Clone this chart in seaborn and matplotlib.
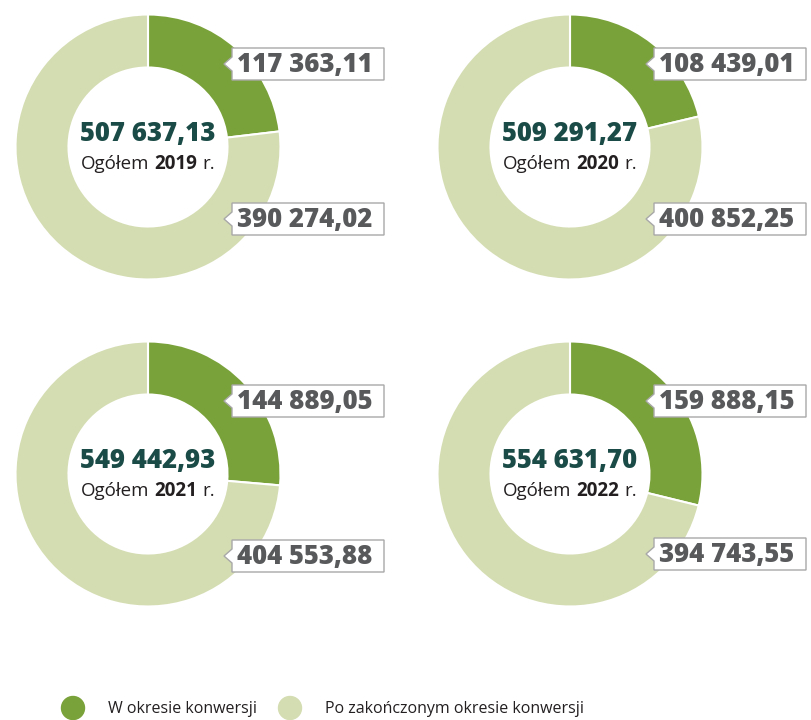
import matplotlib
matplotlib.use("Agg")
import matplotlib.pyplot as plt
from matplotlib.patches import Polygon, Circle
from matplotlib.offsetbox import TextArea, HPacker, AnnotationBbox
import seaborn as sns

# dane (ha)
years = [2019, 2020, 2021, 2022]
w_okresie = [117363.11, 108439.01, 144889.05, 159888.15]
po_okresie = [390274.02, 400852.25, 404553.88, 394743.55]
ogolem = [507637.13, 509291.27, 549442.93, 554631.70]
legend_labels = ["W okresie konwersji", "Po zakończonym okresie konwersji"]

sns.set_theme(style="white")
plt.rcParams["font.family"] = ["Open Sans", "DejaVu Sans"]

colors = sns.color_palette(["#7aa23a", "#d4ddb2"])
dark = "#1b4b46"
grey = "#58595b"
black = "#231f20"


def fmt(v):
    return f"{v:,.2f}".replace(",", " ").replace(".", ",")


def label_box(ax, x0, x1, y0, y1, txt):
    mid = (y0 + y1) / 2
    pts = [(x1, y0), (x0, y0), (x0, mid - 7), (x0 - 8, mid), (x0, mid + 7), (x0, y1), (x1, y1)]
    ax.add_patch(Polygon(pts, closed=True, facecolor="white", edgecolor="#a8a8a8", lw=1, zorder=3))
    ax.text(x0 + 5, mid + 1, txt, ha="left", va="center", fontsize=18.5,
            fontweight=800, color=grey, zorder=4)


fig = plt.figure(figsize=(8.11, 7.2), dpi=100)
ax = fig.add_axes([0, 0, 1, 1])

# layout w pikselach
centers = [(148, 147), (570, 147), (148, 474), (570, 474)]
top_boxes = [(48, 80), (48, 80), (385, 417), (385, 417)]
bot_boxes = [(203, 235), (203, 235), (540, 572), (538, 570)]
R = 132.5

for i, (cx, cy) in enumerate(centers):
    ax.pie([w_okresie[i], po_okresie[i]], colors=colors, center=(cx, cy), radius=R,
           startangle=-90, counterclock=True,
           wedgeprops=dict(width=53, edgecolor="white", linewidth=1.5))
    ax.text(cx, cy - 13, fmt(ogolem[i]), ha="center", va="center", fontsize=18.5,
            fontweight=800, color=dark)
    parts = [TextArea("Ogółem", textprops=dict(fontsize=13.5, color=black)),
             TextArea(str(years[i]), textprops=dict(fontsize=13.5, color=black, fontweight="bold")),
             TextArea("r.", textprops=dict(fontsize=13.5, color=black))]
    pack = HPacker(children=parts, align="baseline", pad=0, sep=3.5)
    ax.add_artist(AnnotationBbox(pack, (cx, cy + 17), frameon=False, box_alignment=(0.5, 0.5), pad=0))
    x0 = cx + 84
    x1 = min(cx + 236, 810)
    label_box(ax, x0, x1, top_boxes[i][0], top_boxes[i][1], fmt(w_okresie[i]))
    label_box(ax, x0, x1, bot_boxes[i][0], bot_boxes[i][1], fmt(po_okresie[i]))

# legenda
for (lx, tx), lab, c in zip([(73, 108), (290, 325)], legend_labels, colors):
    ax.add_patch(Circle((lx, 708), 11.5, color=c, zorder=3))
    ax.text(tx, 709, lab, ha="left", va="center", fontsize=11.5, color=black)

ax.set_xlim(0, 811)
ax.set_ylim(720, 0)
ax.set_aspect("auto")
ax.axis("off")

fig.savefig("out.png", dpi=100, facecolor="white")
